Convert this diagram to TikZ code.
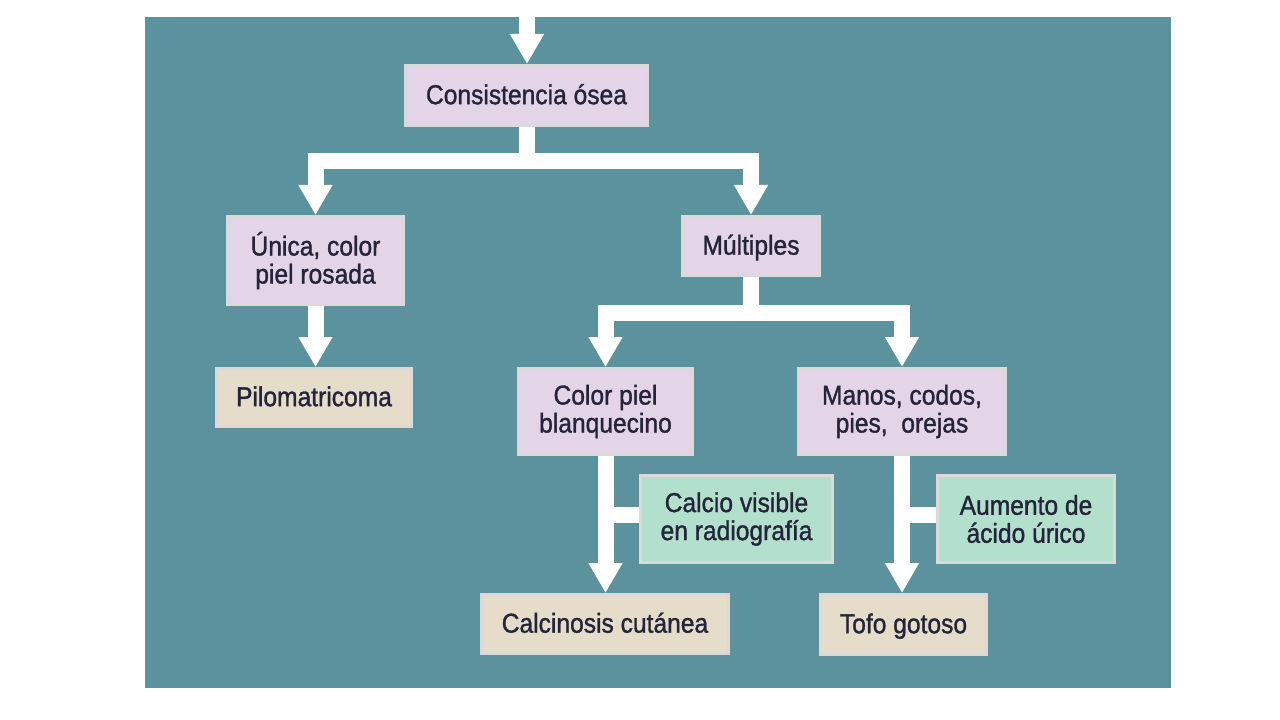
\documentclass[tikz,border=0pt]{standalone}
\usepackage{fontspec}
\setmainfont{Liberation Sans}[FakeStretch=0.9,FakeBold=1.2]
\usetikzlibrary{arrows.meta}
\definecolor{panelc}{HTML}{5C929E}
\definecolor{lavc}{HTML}{E4D4E8}
\definecolor{tanc}{HTML}{E5DCCA}
\definecolor{mintc}{HTML}{B3E0CC}
\definecolor{edgec}{HTML}{DADADA}
\definecolor{txtc}{HTML}{24243A}
\begin{document}
\begin{tikzpicture}[x=0.75pt,y=-0.75pt,
  box/.style={draw=edgec, line width=2.25pt, text=txtc, align=center,
    font=\fontsize{20.5}{21}\selectfont, inner sep=0pt, outer sep=1.125pt},
  sz/.style 2 args={minimum width={(#1-3)*0.75pt}, minimum height={(#2-3)*0.75pt}},
  oneline/.style={text height=13pt, text depth=0pt},
  lav/.style={box, fill=lavc},
  tan/.style={box, fill=tanc},
  mint/.style={box, fill=mintc},
  arr/.style={draw=white, line width=12pt, -{Triangle[width=24pt,length=22.5pt]}},
  con/.style={draw=white, line width=12pt}]
\useasboundingbox (0,0) rectangle (1280,720);
\fill[white] (0,0) rectangle (1280,720);
\fill[panelc] (145,17) rectangle (1171,688);

\node[lav, oneline, sz={245}{63}] (cons) at (526.5,95.5) {Consistencia ósea};
\node[lav, sz={179}{91}] (unica) at (315.5,260.5) {Única, color\\piel rosada};
\node[tan, oneline, sz={198}{61}] (pilo) at (314,397.5) {Pilomatricoma};
\node[lav, oneline, sz={140}{62}] (mult) at (751,246) {Múltiples};
\node[lav, sz={177}{89}] (colorp) at (605.5,411.5) {Color piel\\blanquecino};
\node[lav, sz={210}{89}] (manos) at (902,411.5) {Manos, codos,\\pies,\ \ orejas};
\node[mint, sz={195}{90}] (calcio) at (736.5,519) {Calcio visible\\en radiografía};
\node[mint, sz={180}{90}] (aum) at (1026,519) {Aumento de\\ácido úrico};
\node[tan, oneline, sz={250}{62}] (calcin) at (605,624) {Calcinosis cutánea};
\node[tan, oneline, sz={169}{63}] (tofo) at (903.5,624.5) {Tofo gotoso};

\coordinate (top) at (527,17);
\draw[arr] (top) -- (top |- cons.north);
\draw[arr] (cons.south) -- ++(0,34.5) -| (unica.north);
\draw[arr] (cons.south) -- ++(0,34.5) -| (mult.north);
\draw[arr] (unica.south) -- (unica.south |- pilo.north);
\draw[arr] (mult.south) -- ++(0,36) -| (colorp.north);
\draw[arr] (mult.south) -- ++(0,36) -| (manos.north);
\draw[arr] (colorp.south) -- (colorp.south |- calcin.north);
\draw[arr] (manos.south) -- (manos.south |- tofo.north);
\draw[con] ([yshift=3pt]calcio.west) -- ([yshift=3pt]calcio.west -| colorp.south);
\draw[con] ([yshift=3pt]aum.west) -- ([yshift=3pt]aum.west -| manos.south);
\end{tikzpicture}
\end{document}
